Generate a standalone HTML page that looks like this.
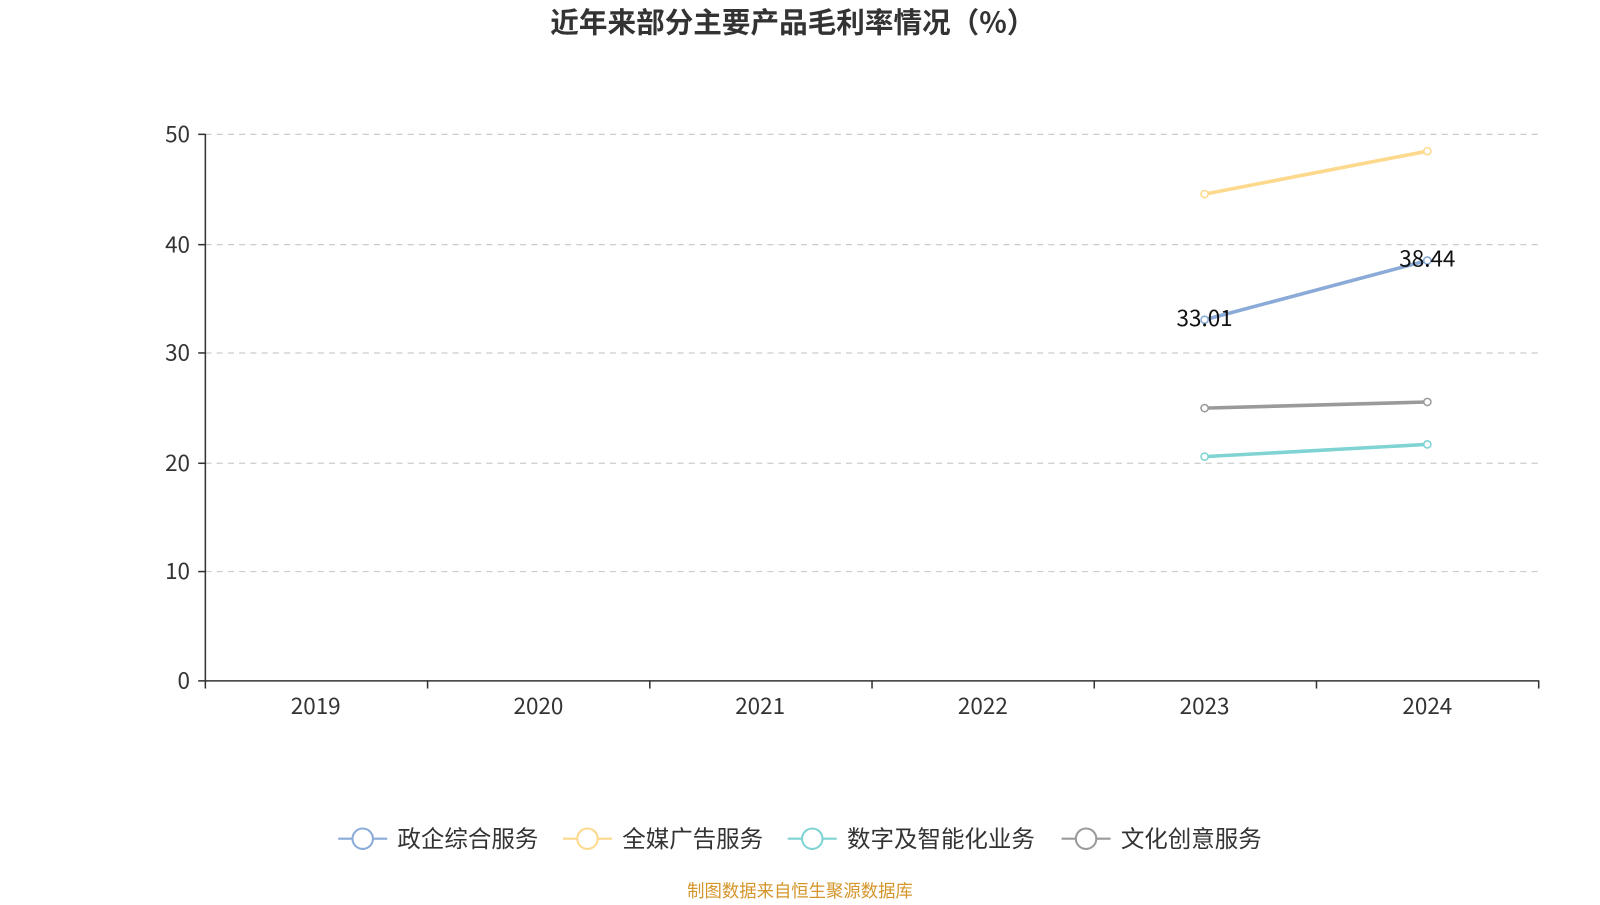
<!DOCTYPE html>
<html><head><meta charset="utf-8"><style>
body{margin:0;background:#fff;width:1600px;height:900px;overflow:hidden;font-family:"Noto Sans CJK SC",sans-serif;}
</style></head><body>
<svg width="1600" height="900" viewBox="0 0 1566 881" preserveAspectRatio="none" xmlns="http://www.w3.org/2000/svg" font-family="Noto Sans CJK SC, sans-serif">
<text x="776" y="32" text-anchor="middle" font-size="28" font-weight="bold" fill="#333">近年来部分主要产品毛利率情况（%）</text>
<g stroke="#ccc" stroke-dasharray="6,5" stroke-width="1.2">
<line x1="201" y1="131.5" x2="1506" y2="131.5"/>
<line x1="201" y1="239.5" x2="1506" y2="239.5"/>
<line x1="201" y1="345.5" x2="1506" y2="345.5"/>
<line x1="201" y1="453.5" x2="1506" y2="453.5"/>
<line x1="201" y1="559.5" x2="1506" y2="559.5"/>
</g>
<g stroke="#333" stroke-width="1.5">
<line x1="201" y1="131" x2="201" y2="667"/>
<line x1="201" y1="666.5" x2="1506" y2="666.5"/>
<line x1="194" y1="131.5" x2="201" y2="131.5"/><line x1="194" y1="239.5" x2="201" y2="239.5"/><line x1="194" y1="345.5" x2="201" y2="345.5"/><line x1="194" y1="453.5" x2="201" y2="453.5"/><line x1="194" y1="559.5" x2="201" y2="559.5"/><line x1="194" y1="666.5" x2="201" y2="666.5"/>
<line x1="201" y1="666" x2="201" y2="674"/><line x1="418.5" y1="666" x2="418.5" y2="674"/><line x1="636" y1="666" x2="636" y2="674"/><line x1="853.5" y1="666" x2="853.5" y2="674"/><line x1="1071" y1="666" x2="1071" y2="674"/><line x1="1288.5" y1="666" x2="1288.5" y2="674"/><line x1="1506" y1="666" x2="1506" y2="674"/>
</g>
<g font-size="22" fill="#333" text-anchor="end">
<text x="186" y="139">50</text><text x="186" y="247">40</text><text x="186" y="353">30</text><text x="186" y="461">20</text><text x="186" y="567">10</text><text x="186" y="674">0</text>
</g>
<g font-size="22" fill="#333" text-anchor="middle">
<text x="309" y="699">2019</text><text x="527" y="699">2020</text><text x="744" y="699">2021</text><text x="962" y="699">2022</text><text x="1179" y="699">2023</text><text x="1397" y="699">2024</text>
</g>
<g stroke-width="3.5" fill="#fff">
<line x1="1179" y1="190" x2="1397" y2="148" stroke="#fcd98c"/>
<line x1="1179" y1="313" x2="1397" y2="255" stroke="#8aabd8"/>
<line x1="1179" y1="399.5" x2="1397" y2="393.5" stroke="#9a9a9a"/>
<line x1="1179" y1="447" x2="1397" y2="435" stroke="#7fd3d3"/>
</g>
<g stroke-width="1.5" fill="#fff">
<circle cx="1179" cy="190" r="3.5" stroke="#fcd98c"/><circle cx="1397" cy="148" r="3.5" stroke="#fcd98c"/>
<circle cx="1179" cy="313" r="3.5" stroke="#8aabd8"/><circle cx="1397" cy="255" r="3.5" stroke="#8aabd8"/>
<circle cx="1179" cy="399.5" r="3.5" stroke="#9a9a9a"/><circle cx="1397" cy="393.5" r="3.5" stroke="#9a9a9a"/>
<circle cx="1179" cy="447" r="3.5" stroke="#7fd3d3"/><circle cx="1397" cy="435" r="3.5" stroke="#7fd3d3"/>
</g>
<text x="1179" y="319" text-anchor="middle" font-size="22" fill="#111">33.01</text>
<text x="1397" y="261" text-anchor="middle" font-size="22" fill="#111">38.44</text>
<g font-size="23" fill="#333" stroke-width="2">
<line x1="331" y1="821" x2="379" y2="821" stroke="#8aabd8"/><circle cx="355" cy="821" r="10" fill="#fff" stroke="#8aabd8"/><text x="389" y="829">政企综合服务</text>
<line x1="551" y1="821" x2="599" y2="821" stroke="#fcd98c"/><circle cx="575" cy="821" r="10" fill="#fff" stroke="#fcd98c"/><text x="609" y="829">全媒广告服务</text>
<line x1="771" y1="821" x2="819" y2="821" stroke="#7fd3d3"/><circle cx="795" cy="821" r="10" fill="#fff" stroke="#7fd3d3"/><text x="829" y="829">数字及智能化业务</text>
<line x1="1039" y1="821" x2="1087" y2="821" stroke="#9a9a9a"/><circle cx="1063" cy="821" r="10" fill="#fff" stroke="#9a9a9a"/><text x="1097" y="829">文化创意服务</text>
</g>
<text x="783" y="878" text-anchor="middle" font-size="17" fill="#d4952a">制图数据来自恒生聚源数据库</text>
</svg>
</body></html>
